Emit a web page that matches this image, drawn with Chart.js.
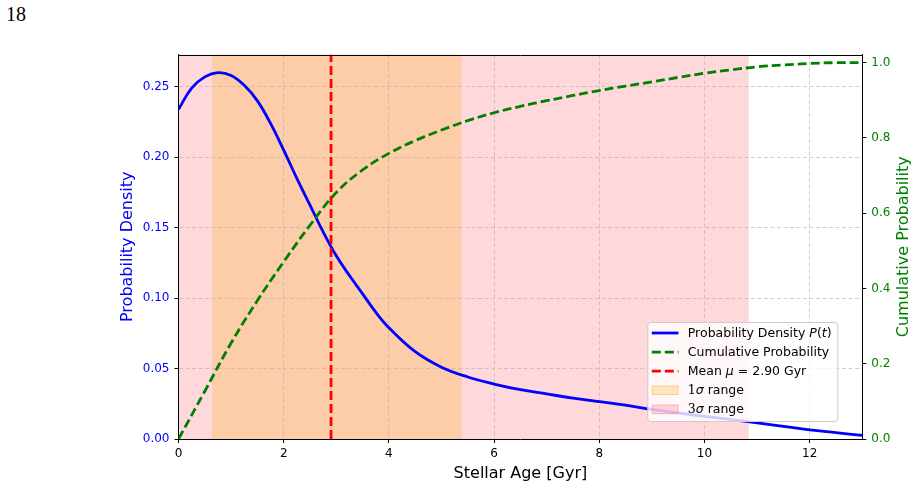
<!DOCTYPE html>
<html><head><meta charset="utf-8">
<script src="https://cdn.jsdelivr.net/npm/chart.js@4.4.0/dist/chart.umd.min.js"></script>
<style>
html,body{margin:0;padding:0;background:#fff;}
#wrap{position:relative;width:918px;height:488px;overflow:hidden;}
#pg{position:absolute;left:6px;top:2px;font:20px "Liberation Serif","DejaVu Serif",serif;color:#000;line-height:24px;}
canvas{position:absolute;left:0;top:0;}
</style></head><body>
<div id="wrap"><div id="pg">18</div><canvas id="c" width="918" height="488"></canvas></div>
<script>
// ---- data ----
const densityAges = [0,0.25,0.5,0.75,1,1.25,1.5,1.75,2,2.25,2.5,2.75,3,3.25,3.5,3.75,4,4.5,5,5.5,6,6.5,7,7.5,8,8.5,9,9.5,10,10.5,11,11.5,12,12.5,13];
const density = [0.234,0.249,0.257,0.260,0.258,0.251,0.240,0.224,0.205,0.185,0.166,0.147,0.130,0.116,0.103,0.090,0.079,0.062,0.051,0.044,0.039,0.035,0.032,0.029,0.0265,0.024,0.021,0.0185,0.016,0.0138,0.0115,0.009,0.0065,0.0045,0.0025];
const cumAges = [0,0.5,1,1.5,2,2.5,3,3.5,4,4.5,5,5.5,6,6.5,7,7.5,8,8.5,9,9.5,10,10.5,11,11.5,12,12.5,13];
const cumulative = [0,0.127,0.255,0.368,0.471,0.568,0.655,0.715,0.759,0.793,0.821,0.846,0.867,0.884,0.899,0.913,0.926,0.938,0.949,0.961,0.972,0.981,0.989,0.994,0.998,1.0,1.0];
const meanAge = 2.90;
const sigma1Range = [0.64, 5.38];
const sigma3Range = [-5.04, 10.84];
const xTicks = [0,2,4,6,8,10,12];
const densityTicks = [0,0.05,0.10,0.15,0.20,0.25];
const cumTicks = [0,0.2,0.4,0.6,0.8,1.0];
const xLimits = [0,13];
const densityLimits = [0,0.2729];
const cumLimits = [0,1.0218];

const BLUE='#0000ff', GREEN='#008000', RED='#ff0000';
const GRIDC='rgba(176,176,176,0.6)';
const FAM='"DejaVu Sans", sans-serif';

const bandsPlugin = {
  id:'bands',
  beforeDraw(chart){
    const {ctx, chartArea:a, scales:{x}} = chart;
    ctx.save();
    ctx.beginPath(); ctx.rect(a.left,a.top,a.right-a.left,a.bottom-a.top); ctx.clip();
    const x3a = x.getPixelForValue(sigma3Range[0]), x3b = x.getPixelForValue(sigma3Range[1]);
    ctx.fillStyle = '#ffd8db';
    ctx.fillRect(x3a, a.top, x3b-x3a, a.bottom-a.top);
    const x1a = x.getPixelForValue(sigma1Range[0]), x1b = x.getPixelForValue(sigma1Range[1]);
    ctx.fillStyle = '#fdcca9';
    ctx.fillRect(x1a, a.top, x1b-x1a, a.bottom-a.top);
    ctx.restore();
  },
  afterDatasetsDraw(chart){
    const {ctx, chartArea:a} = chart;
    ctx.save();
    ctx.strokeStyle='#000'; ctx.lineWidth=1;
    ctx.beginPath(); ctx.moveTo(a.left, Math.round(a.top)+0.5); ctx.lineTo(a.right, Math.round(a.top)+0.5); ctx.stroke();
    ctx.restore();
  },
  afterDraw(chart){
    const {ctx, chartArea:a} = chart;
    ctx.save();
    ctx.translate(903.5, (a.top+a.bottom)/2);
    ctx.rotate(-Math.PI/2);
    ctx.font = '16px '+FAM; ctx.fillStyle = GREEN;
    ctx.textAlign='center'; ctx.textBaseline='middle';
    ctx.fillText('Cumulative Probability', 0, 0);
    ctx.restore();
    const R='12.5px '+FAM, I='italic 12.5px '+FAM, S='12.5px "DejaVu Serif", serif';
    const W=190, H=99;
    const bx=a.right-25-W, by=a.bottom-18-H;
    ctx.save();
    ctx.beginPath();
    if (ctx.roundRect) ctx.roundRect(bx+0.5,by+0.5,W,H,3); else ctx.rect(bx+0.5,by+0.5,W,H);
    ctx.fillStyle='rgba(255,255,255,0.8)'; ctx.fill();
    ctx.strokeStyle='#cccccc'; ctx.lineWidth=1; ctx.stroke();
    const rows = [
      {kind:'line', color:BLUE, dash:[], parts:[[R,'Probability Density '],[I,'P'],[R,'('],[I,'t'],[R,')']]},
      {kind:'line', color:GREEN, dash:[9,4], parts:[[R,'Cumulative Probability']]},
      {kind:'line', color:RED, dash:[9,4], parts:[[R,'Mean '],[I,'\u03bc'],[R,' = '+meanAge.toFixed(2)+' Gyr']]},
      {kind:'box', fill:'rgba(255,165,0,0.22)', edge:'rgba(255,165,0,0.35)', parts:[[S,'1'],[I,'\u03c3'],[R,' range']]},
      {kind:'box', fill:'rgba(255,130,140,0.3)', edge:'rgba(255,120,130,0.4)', parts:[[S,'3'],[I,'\u03c3'],[R,' range']]}
    ];
    rows.forEach((r,i)=>{
      const cy = by+11+i*19.1;
      const sx = bx+4.5, sw=26.7;
      if (r.kind==='line'){
        ctx.strokeStyle=r.color; ctx.lineWidth=2.8; ctx.setLineDash(r.dash);
        ctx.beginPath(); ctx.moveTo(sx,cy); ctx.lineTo(sx+sw,cy); ctx.stroke();
        ctx.setLineDash([]);
      } else {
        ctx.fillStyle=r.fill; ctx.fillRect(sx,cy-4.7,sw,9.4);
        ctx.strokeStyle=r.edge; ctx.lineWidth=1; ctx.strokeRect(sx+0.5,cy-4.2,sw-1,8.4);
      }
      let tx = bx+40.5;
      ctx.fillStyle='#000'; ctx.textBaseline='middle'; ctx.textAlign='left';
      r.parts.forEach(([f,t])=>{ ctx.font=f; ctx.fillText(t,tx,cy+0.5); tx+=ctx.measureText(t).width; });
    });
    ctx.restore();
  }
};

const pts = (xs, ys) => xs.map((v,i)=>({x:v, y:ys[i]}));

new Chart(document.getElementById('c'), {
  type:'line',
  data:{datasets:[
    {label:'Probability Density P(t)', data:pts(densityAges,density), yAxisID:'y', borderColor:BLUE, borderWidth:2.8, pointRadius:0, tension:0.4, fill:false, order:3},
    {label:'Cumulative Probability', data:pts(cumAges,cumulative), yAxisID:'y2', borderColor:GREEN, borderWidth:2.8, borderDash:[9,4], pointRadius:0, tension:0.4, fill:false, order:2},
    {label:'Mean', data:[{x:meanAge,y:densityLimits[0]},{x:meanAge,y:densityLimits[1]}], yAxisID:'y', borderColor:RED, borderWidth:2.8, borderDash:[9,4], pointRadius:0, fill:false, order:1}
  ]},
  options:{
    responsive:false, animation:false, devicePixelRatio:1,
    layout:{padding:{left:0,right:0,top:54.5,bottom:0}},
    plugins:{legend:{display:false}, tooltip:{enabled:false}},
    scales:{
      x:{type:'linear', min:xLimits[0], max:xLimits[1],
        afterBuildTicks:s=>{s.ticks = xTicks.map(v=>({value:v}));},
        afterFit:s=>{s.height=49;},
        ticks:{color:'#000', font:{family:FAM,size:12}, padding:4, maxRotation:0, callback:v=>String(v)},
        grid:{color:GRIDC, lineWidth:1, tickColor:'#000', tickLength:4, tickWidth:1},
        border:{color:'#000', width:1, dash:[4,2.5]},
        title:{display:true, text:'Stellar Age [Gyr]', color:'#000', font:{family:FAM,size:16}, padding:{top:0,bottom:4.6}}
      },
      y:{type:'linear', position:'left', min:densityLimits[0], max:densityLimits[1],
        afterBuildTicks:s=>{s.ticks = densityTicks.map(v=>({value:v}));},
        afterFit:s=>{s.width=178.5;},
        ticks:{color:BLUE, font:{family:FAM,size:12}, padding:5, callback:v=>Number(v).toFixed(2)},
        grid:{color:GRIDC, lineWidth:1, tickColor:'#000', tickLength:4, tickWidth:1},
        border:{color:'#000', width:1, dash:[4,2.5]},
        title:{display:true, text:'Probability Density', color:BLUE, font:{family:FAM,size:16}, padding:{top:118.4,bottom:0}}
      },
      y2:{type:'linear', position:'right', min:cumLimits[0], max:cumLimits[1],
        afterBuildTicks:s=>{s.ticks = cumTicks.map(v=>({value:v}));},
        afterFit:s=>{s.width=55.7;},
        ticks:{color:GREEN, font:{family:FAM,size:12}, padding:5, callback:v=>Number(v).toFixed(1)},
        grid:{drawOnChartArea:false, tickColor:'#000', tickLength:4, tickWidth:1},
        border:{color:'#000', width:1}
      }
    }
  },
  plugins:[bandsPlugin]
});
</script>
</body></html>
